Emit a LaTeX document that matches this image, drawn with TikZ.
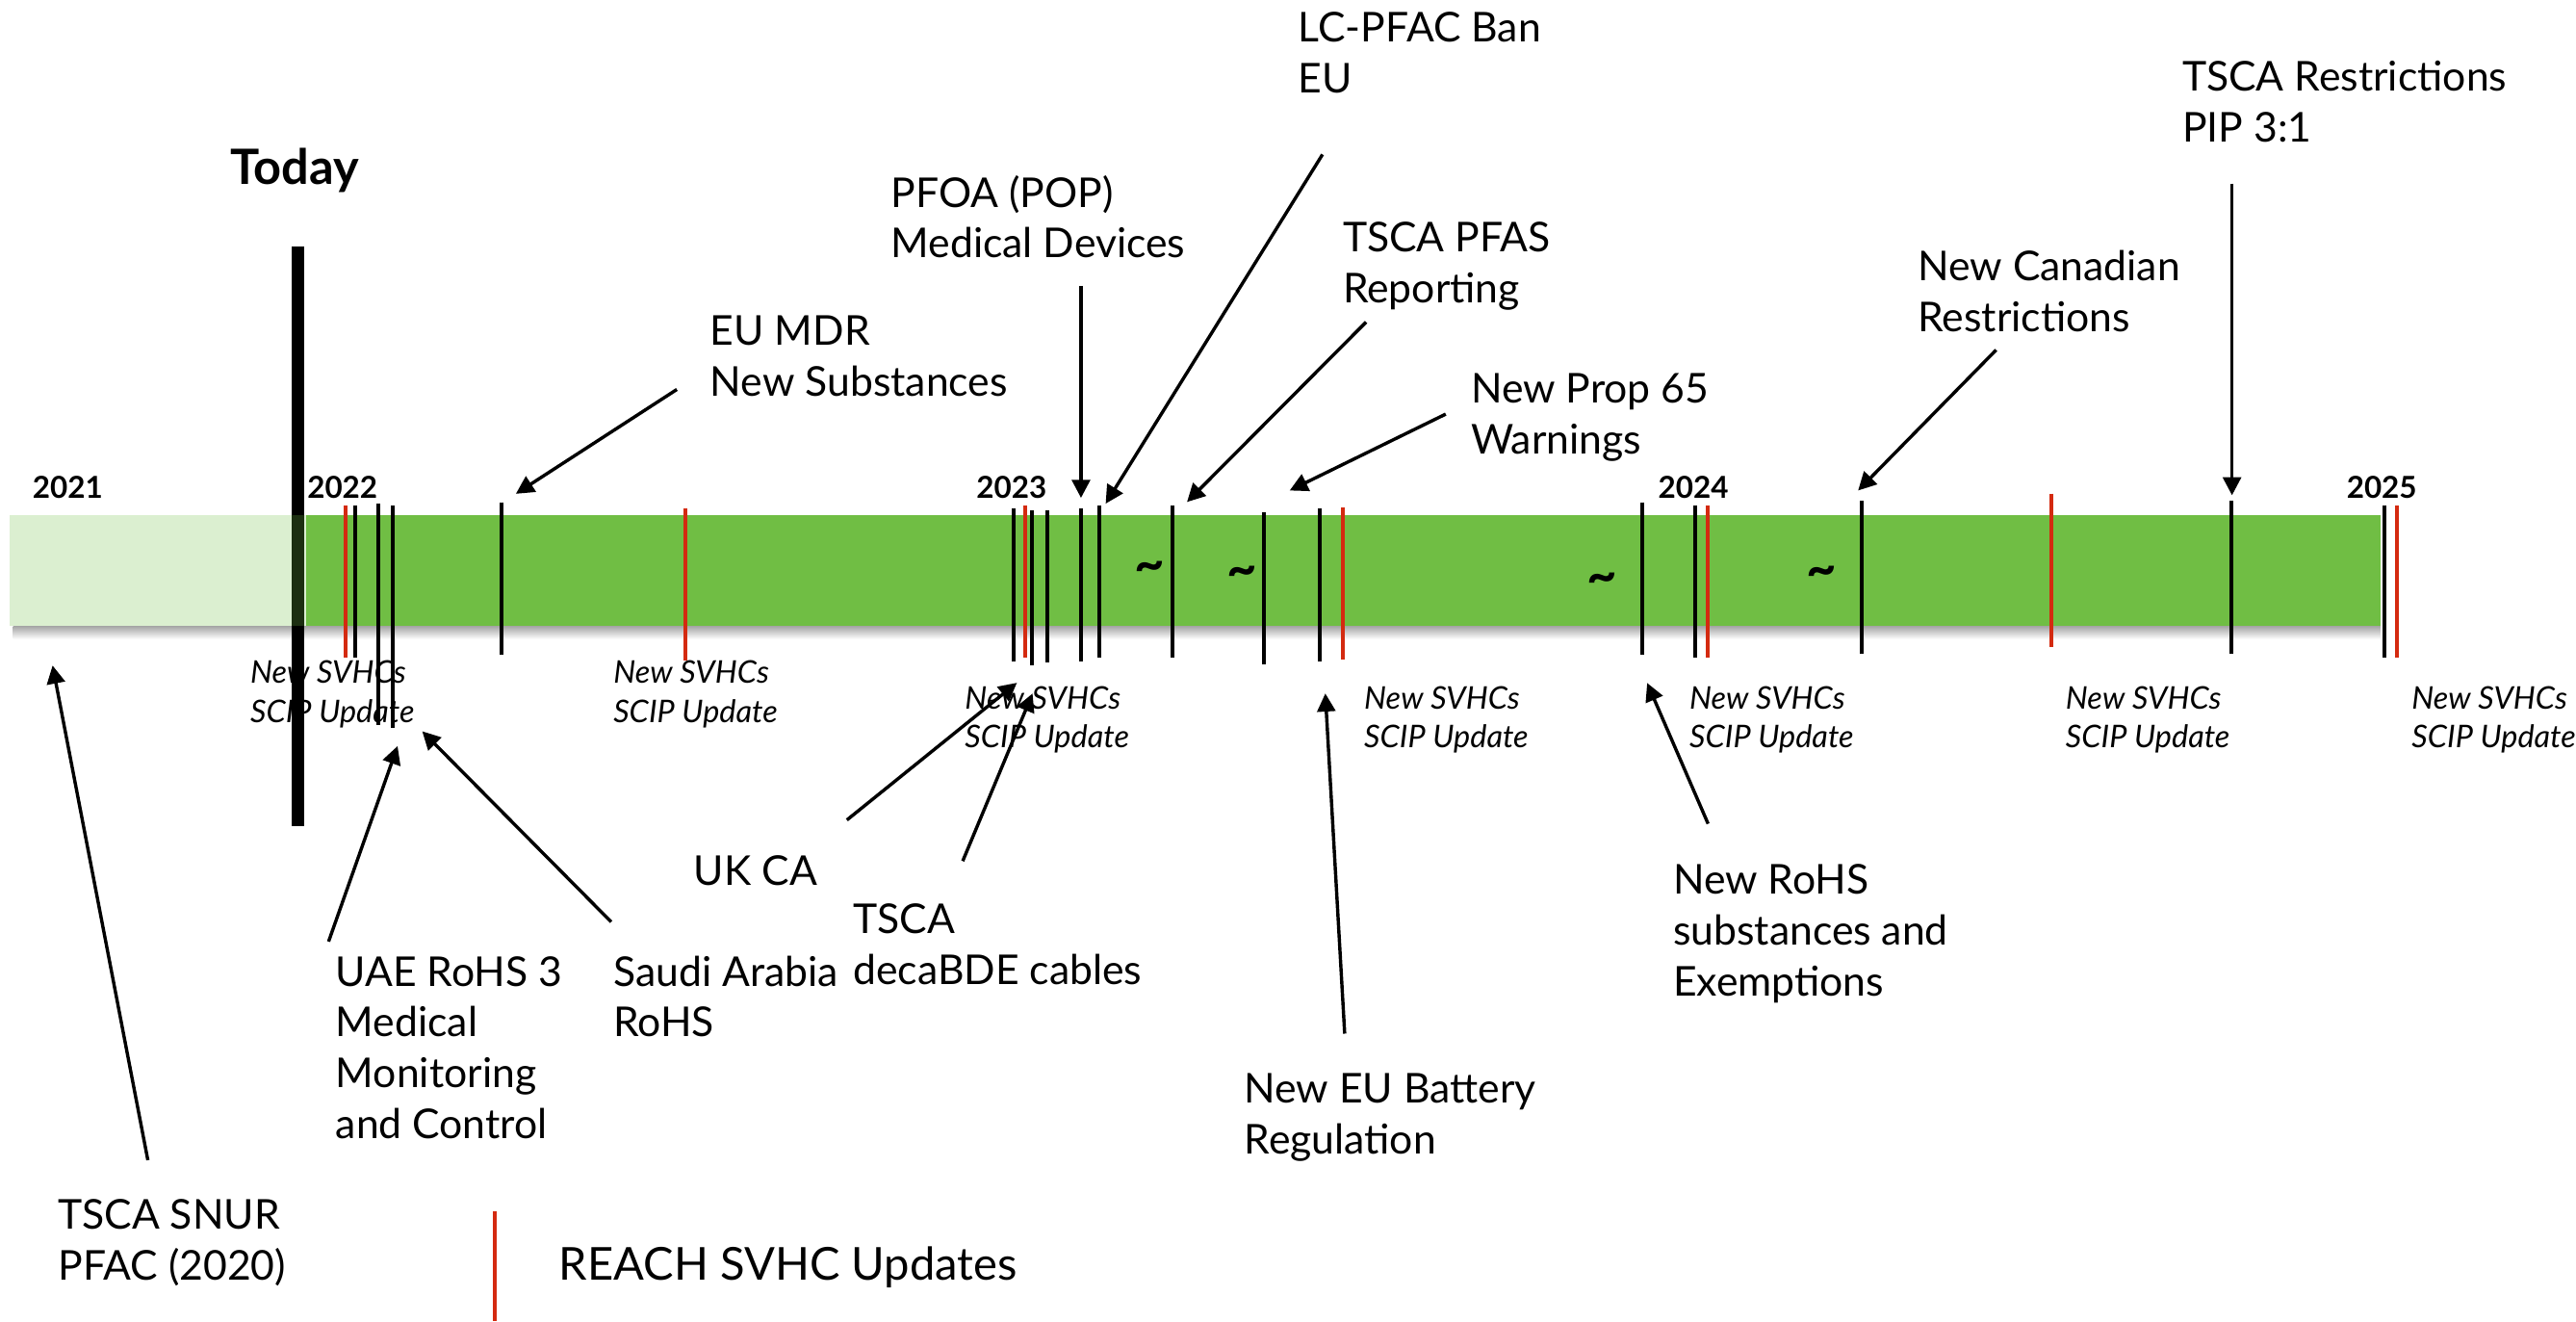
\documentclass[tikz,border=0pt]{standalone}
\usepackage{fontspec}
\setmainfont{Lato}
\usepackage{tikz}
\usetikzlibrary{arrows.meta, positioning}
\definecolor{barGreen}{RGB}{112,190,68}
\definecolor{svhcRed}{RGB}{212,42,16}

\begin{document}
\begin{tikzpicture}[
  x=0.5pt, y=-0.5pt,
  lbl/.style={anchor=base west, align=left, inner sep=0pt, font=\fontsize{12.5}{15.5}\selectfont},
  svhc/.style={anchor=base west, align=left, inner sep=0pt, font=\fontsize{9.5}{11.75}\selectfont\itshape},
  yr/.style={anchor=base west, inner sep=0pt, font=\fontsize{9.2}{10}\selectfont\bfseries},
  tld/.style={inner sep=0pt, font=\fontsize{16}{16}\selectfont\bfseries},
  arr/.style={-{Triangle[length=5.5pt, width=5.5pt]}, line width=1pt},
  blk/.style={line width=1.2pt},
  rd/.style={line width=1.2pt, svhcRed}
]
  \useasboundingbox (0,0) rectangle (1568,804);

  \node[svhc] (s1) at (152,439.5) {New SVHCs\\SCIP Update};
  \node[svhc] (s2) at (373,439.5) {New SVHCs\\SCIP Update};
  \node[svhc] (s3) at (587,455) {New SVHCs\\SCIP Update};
  \node[svhc] (s4) at (830,455) {New SVHCs\\SCIP Update};
  \node[svhc] (s5) at (1028,455) {New SVHCs\\SCIP Update};
  \node[svhc] (s6) at (1257,455) {New SVHCs\\SCIP Update};
  \node[svhc] (s7) at (1467.6,455) {New SVHCs\\SCIP Update};

  \shade[top color=black!35, bottom color=white] (8,381) rectangle (1449,389);
  \draw[line width=3.9pt] (181.3,150) -- (181.3,503);
  \fill[barGreen, opacity=0.25] (5.8,313.5) rectangle (186.3,381);
  \fill[barGreen] (186.3,313.5) rectangle (1449,381);

  \foreach \x/\a/\b in {216.3/307.6/400, 230.1/306.6/441.4, 238.8/307.6/443,
    305.1/305.7/398.5, 617.2/309.6/402.4, 628.3/310.6/404.9, 637.7/310.6/403.3,
    658.2/309.6/402.4, 669/307.6/400.2, 713.7/307.6/400.2, 769.5/311.5/404.3,
    803.2/309.6/402.4, 999.6/305.7/398.5, 1031.9/307.6/400.2, 1133.4/304.7/397.9,
    1358.4/304.7/397.9, 1451.2/307.6/400.2}
    \draw[blk] (\x,\a) -- (\x,\b);
  \foreach \x/\a/\b in {210.2/307.6/400, 417.4/309.2/402, 624.2/307.6/400.2,
    817.3/308.6/401.4, 1039.3/307.6/400.2, 1248.6/300.4/393.6, 1458.9/307.6/400.2}
    \draw[rd] (\x,\a) -- (\x,\b);

  \node[tld] (t1) at (700,348) {\textasciitilde};
  \node[tld] (t2) at (756,351) {\textasciitilde};
  \node[tld] (t3) at (975,355) {\textasciitilde};
  \node[tld] (t4) at (1109,351) {\textasciitilde};

  \node[yr] (y21) at (19.5,303) {2021};
  \node[yr] (y22) at (186.7,303) {2022};
  \node[yr] (y23) at (594,303) {2023};
  \node[yr] (y24) at (1009,303) {2024};
  \node[yr] (y25) at (1428,303) {2025};

  \node[anchor=base west, inner sep=0pt, font=\fontsize{14.8}{16}\selectfont\bfseries] (today) at (140,112) {Today};

  \node[lbl] (snur) at (35,779) {TSCA SNUR\\PFAC (2020)};
  \node[lbl] (uae) at (204,693) {UAE RoHS 3\\Medical\\Monitoring\\and Control};
  \node[lbl] (saudi) at (373,631) {Saudi Arabia\\RoHS};
  \node[lbl] (ukca) at (422,539) {UK CA};
  \node[lbl] (deca) at (519,599) {TSCA\\decaBDE cables};
  \node[lbl] (batt) at (757,702) {New EU Battery\\Regulation};
  \node[lbl] (rohs) at (1018,606) {New RoHS\\substances and\\Exemptions};
  \node[lbl] (mdr) at (432,241) {EU MDR\\New Substances};
  \node[lbl] (pfoa) at (542,157) {PFOA (POP)\\Medical Devices};
  \node[lbl] (lcpfac) at (790,56.5) {LC-PFAC Ban\\EU};
  \node[lbl] (pfas) at (817,184) {TSCA PFAS\\Reporting};
  \node[lbl] (prop) at (895,276) {New Prop 65\\Warnings};
  \node[lbl] (canada) at (1167,202) {New Canadian\\Restrictions};
  \node[lbl] (pip) at (1328,86.5) {TSCA Restrictions\\PIP 3:1};
  \node[lbl, font=\fontsize{13.8}{16}\selectfont] (reach) at (340,779) {REACH SVHC Updates};

  \coordinate (snurS) at (90,706);      \coordinate (snurE) at (32,405);
  \coordinate (uaeS) at (200,573);      \coordinate (uaeE) at (242,454);
  \coordinate (saudiS) at (372,561);    \coordinate (saudiE) at (257,445);
  \coordinate (mdrS) at (412,237);      \coordinate (mdrE) at (314,300.5);
  \coordinate (pfoaS) at (658,174);     \coordinate (pfoaE) at (658,303);
  \coordinate (lcpfacS) at (805,94);    \coordinate (lcpfacE) at (673,306.5);
  \coordinate (pfasS) at (831.5,196);   \coordinate (pfasE) at (722.5,305.5);
  \coordinate (propS) at (880,252);     \coordinate (propE) at (785,298.5);
  \coordinate (canadaS) at (1215,213);  \coordinate (canadaE) at (1131,298.5);
  \coordinate (pipS) at (1358.6,111.7); \coordinate (pipE) at (1358.6,301.4);
  \coordinate (ukcaS) at (515.5,499);   \coordinate (ukcaE) at (619,415.5);
  \coordinate (decaS) at (586,524);     \coordinate (decaE) at (628.5,422);
  \coordinate (battS) at (818.5,629);   \coordinate (battE) at (806.7,422);
  \coordinate (rohsS) at (1039.7,501.3); \coordinate (rohsE) at (1002.6,415.6);

  \draw[arr] (snurS) -- (snurE);
  \draw[arr] (uaeS) -- (uaeE);
  \draw[arr] (saudiS) -- (saudiE);
  \draw[arr] (mdrS) -- (mdrE);
  \draw[arr] (pfoaS) -- (pfoaE);
  \draw[arr] (lcpfacS) -- (lcpfacE);
  \draw[arr] (pfasS) -- (pfasE);
  \draw[arr] (propS) -- (propE);
  \draw[arr] (canadaS) -- (canadaE);
  \draw[arr] (pipS) -- (pipE);
  \draw[arr] (ukcaS) -- (ukcaE);
  \draw[arr] (decaS) -- (decaE);
  \draw[arr] (battS) -- (battE);
  \draw[arr] (rohsS) -- (rohsE);

  \draw[rd] (301,737) -- (301,804);
\end{tikzpicture}
\end{document}
